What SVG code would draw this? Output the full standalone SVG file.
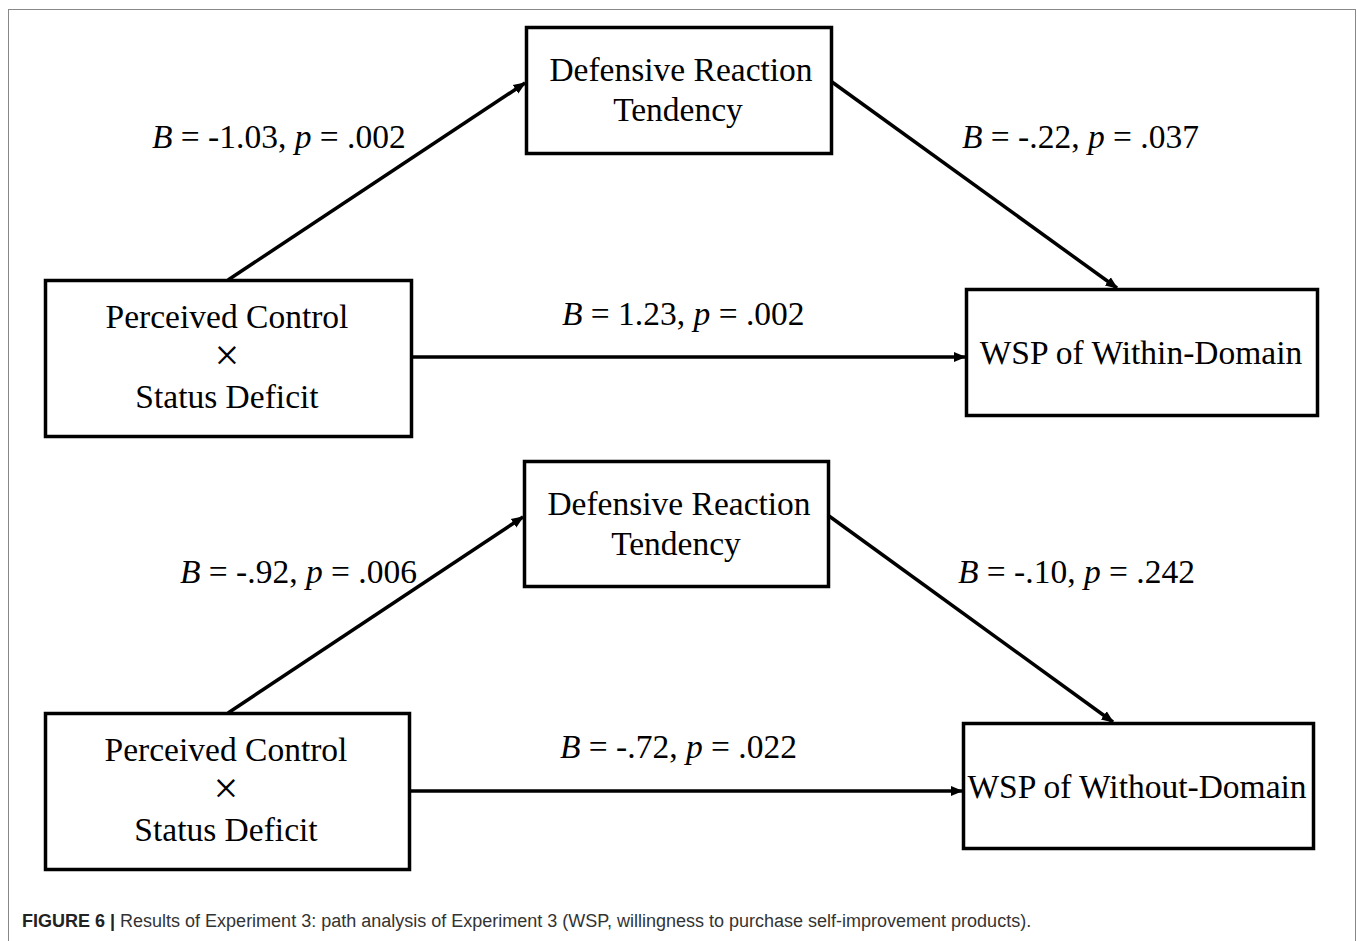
<svg xmlns="http://www.w3.org/2000/svg" width="1357" height="941" viewBox="0 0 1357 941">
<style>
.box{fill:#fff;stroke:#000;stroke-width:3.5}
.t{font-family:"Liberation Serif","Times New Roman",serif;font-size:33.5px;fill:#000}
.c{text-anchor:middle}
.x{font-size:44px;font-weight:normal}
.con{stroke:#000;stroke-width:3.5;fill:none;marker-end:url(#ah)}
.cap{font-family:"Liberation Sans",Arial,sans-serif;font-size:18px;fill:#333}
</style>
<defs>
<marker id="ah" viewBox="0 0 10 10" refX="9" refY="5" markerWidth="3.6" markerHeight="3.6" orient="auto" markerUnits="strokeWidth">
<path d="M0,1 L10,5 L0,9 z" fill="#000"/>
</marker>
</defs>
<rect x="8.5" y="9.5" width="1347" height="940" fill="#fff" stroke="#888" stroke-width="1"/>
<g id="connectors">
<line class="con" x1="228" y1="280" x2="525" y2="83"/>
<line class="con" x1="832" y1="82" x2="1117" y2="288"/>
<line class="con" x1="412" y1="357" x2="965" y2="357"/>
<line class="con" x1="228" y1="713" x2="523" y2="517"/>
<line class="con" x1="829" y1="516" x2="1113" y2="722"/>
<line class="con" x1="410" y1="791" x2="962" y2="791"/>
</g>
<g id="labels">
<text class="t" x="152" y="148"><tspan font-style="italic">B</tspan> = -1.03, <tspan font-style="italic">p</tspan> = .002</text>
<text class="t" x="962" y="148"><tspan font-style="italic">B</tspan> = -.22, <tspan font-style="italic">p</tspan> = .037</text>
<text class="t" x="562" y="325"><tspan font-style="italic">B</tspan> = 1.23, <tspan font-style="italic">p</tspan> = .002</text>
<text class="t" x="180" y="583"><tspan font-style="italic">B</tspan> = -.92, <tspan font-style="italic">p</tspan> = .006</text>
<text class="t" x="958" y="583"><tspan font-style="italic">B</tspan> = -.10, <tspan font-style="italic">p</tspan> = .242</text>
<text class="t" x="560" y="758"><tspan font-style="italic">B</tspan> = -.72, <tspan font-style="italic">p</tspan> = .022</text>
</g>
<g id="drt1">
<rect class="box" x="526.5" y="27.5" width="305" height="126"/>
<text class="t c" x="681" y="81">Defensive Reaction</text>
<text class="t c" x="678" y="121">Tendency</text>
</g>
<g id="pc1">
<rect class="box" x="45.5" y="280.5" width="366" height="156"/>
<text class="t c" x="227" y="328">Perceived Control</text>
<text class="t c x" x="227" y="370">×</text>
<text class="t c" x="227" y="408">Status Deficit</text>
</g>
<g id="wsp1">
<rect class="box" x="966.5" y="289.5" width="351" height="126"/>
<text class="t c" x="1141" y="364">WSP of Within-Domain</text>
</g>
<g id="drt2">
<rect class="box" x="524.5" y="461.5" width="304" height="125"/>
<text class="t c" x="679" y="515">Defensive Reaction</text>
<text class="t c" x="676" y="555">Tendency</text>
</g>
<g id="pc2">
<rect class="box" x="45.5" y="713.5" width="364" height="156"/>
<text class="t c" x="226" y="761">Perceived Control</text>
<text class="t c x" x="226" y="803">×</text>
<text class="t c" x="226" y="841">Status Deficit</text>
</g>
<g id="wsp2">
<rect class="box" x="963.5" y="723.5" width="350" height="125"/>
<text class="t c" x="1137" y="798">WSP of Without-Domain</text>
</g>
<text class="cap" x="22" y="927"><tspan font-weight="bold" fill="#222">FIGURE 6 |</tspan> Results of Experiment 3: path analysis of Experiment 3 (WSP, willingness to purchase self-improvement products).</text>
</svg>
